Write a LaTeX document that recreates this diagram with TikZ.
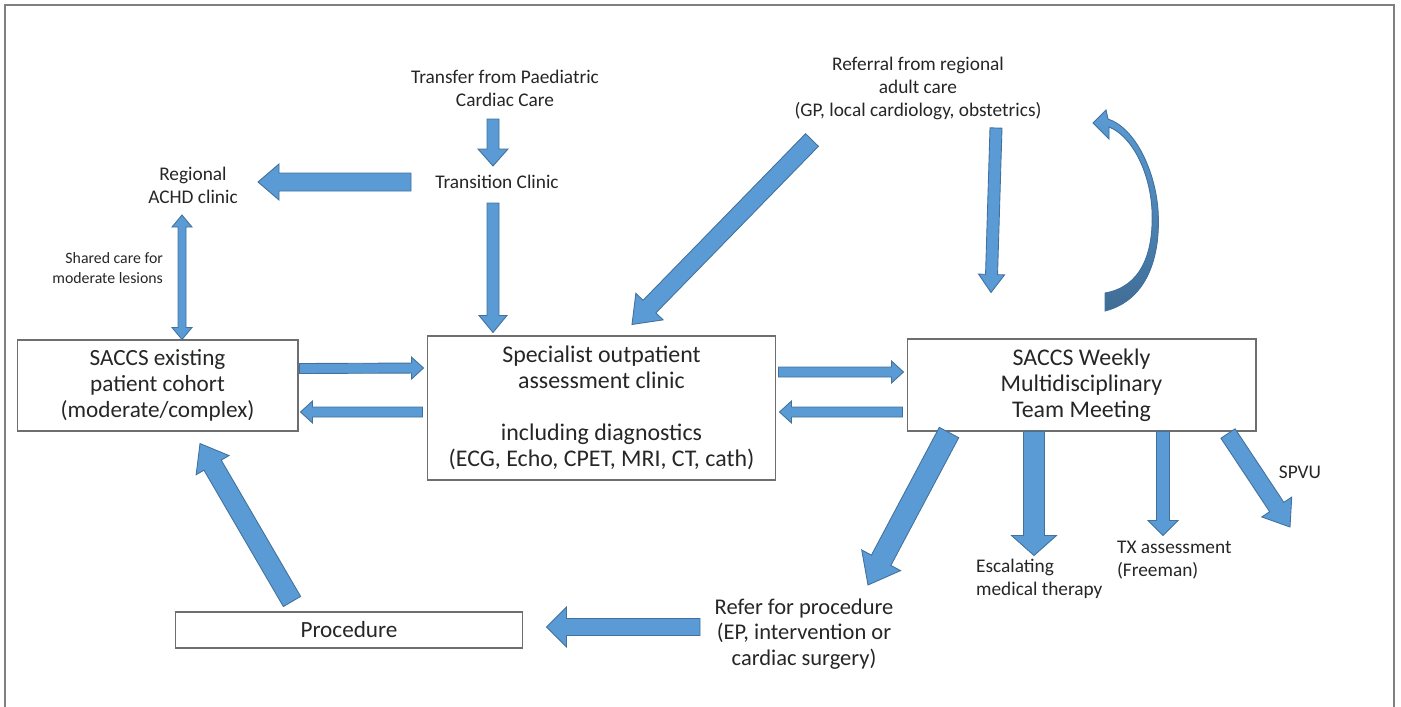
\documentclass[tikz,border=0pt]{standalone}
\usepackage{fontspec}
\setmainfont{Carlito}
\usetikzlibrary{calc}

\definecolor{arrblue}{RGB}{91,155,213}
\definecolor{arredge}{RGB}{65,113,156}
\definecolor{framegray}{RGB}{128,128,128}
\definecolor{boxgray}{RGB}{110,110,110}

% block arrow: start, end, shaft half width, head half width, head length (px)
\newcommand{\fatarrow}[5]{%
  \coordinate (fa-s) at (#1);
  \coordinate (fa-e) at (#2);
  \coordinate (fa-h) at ($(fa-e)!#5*0.02cm!(fa-s)$);
  \draw[fatarr] ($(fa-s)!#3*0.02cm!90:(fa-e)$) -- ($(fa-h)!#3*0.02cm!90:(fa-e)$)
    -- ($(fa-h)!#4*0.02cm!90:(fa-e)$) -- (fa-e) -- ($(fa-h)!#4*0.02cm!-90:(fa-e)$)
    -- ($(fa-h)!#3*0.02cm!-90:(fa-e)$) -- ($(fa-s)!#3*0.02cm!-90:(fa-e)$) -- cycle;
}
% same, with a head at both ends
\newcommand{\fatdarrow}[5]{%
  \coordinate (fa-s) at (#1);
  \coordinate (fa-e) at (#2);
  \coordinate (fa-hs) at ($(fa-s)!#5*0.02cm!(fa-e)$);
  \coordinate (fa-he) at ($(fa-e)!#5*0.02cm!(fa-s)$);
  \draw[fatarr] (fa-s) -- ($(fa-hs)!#4*0.02cm!90:(fa-e)$) -- ($(fa-hs)!#3*0.02cm!90:(fa-e)$)
    -- ($(fa-he)!#3*0.02cm!90:(fa-e)$) -- ($(fa-he)!#4*0.02cm!90:(fa-e)$) -- (fa-e)
    -- ($(fa-he)!#4*0.02cm!-90:(fa-e)$) -- ($(fa-he)!#3*0.02cm!-90:(fa-e)$)
    -- ($(fa-hs)!#3*0.02cm!-90:(fa-e)$) -- ($(fa-hs)!#4*0.02cm!-90:(fa-e)$) -- cycle;
}

\begin{document}
\begin{tikzpicture}[
  x=0.02cm, y=-0.02cm,
  clinicbox/.style={
    draw=boxgray,
    line width=0.6pt,
    align=center,
    text=black!85,
    font=\fontsize{13.2}{14.8}\selectfont
  },
  flowlabel/.style={align=center, inner sep=1pt, text=black!85, font=\fontsize{11}{13.1}\selectfont},
  biglabel/.style={flowlabel, font=\fontsize{12.8}{14.5}\selectfont},
  smalllabel/.style={flowlabel, font=\fontsize{9}{11.4}\selectfont},
  fatarr/.style={fill=arrblue, draw=arredge, line width=0.5pt, line join=miter}
]
\useasboundingbox (0,0) rectangle (1401,707);
\draw[framegray, line width=1.1pt] (5,707) -- (5,5) -- (1394,5) -- (1394,707);

% boxes
\node[clinicbox, minimum width=5.62cm, minimum height=1.82cm] (saccs) at (157.5,385.5)
  {SACCS existing\\patient cohort\\(moderate/complex)};
\node[clinicbox, minimum width=6.98cm, minimum height=2.88cm, font=\fontsize{13.6}{14.8}\selectfont] (spec) at (601.5,408)
  {Specialist outpatient\\assessment clinic\\\mbox{}\\including diagnostics\\(ECG, Echo, CPET, MRI, CT, cath)};
\node[clinicbox, minimum width=6.98cm, minimum height=1.84cm, font=\fontsize{13.6}{14.8}\selectfont] (mdt) at (1081.5,385)
  {SACCS Weekly\\Multidisciplinary\\Team Meeting};
\node[clinicbox, minimum width=6.96cm, minimum height=0.72cm] (proc) at (349,630) {Procedure};

% labels
\node[flowlabel] (paed) at (505,88) {Transfer from Paediatric\\Cardiac Care};
\node[flowlabel] (trans) at (497,182) {Transition Clinic};
\node[flowlabel] (regional) at (193,185) {Regional\\ACHD clinic};
\node[smalllabel, anchor=east, align=right] (shared) at (165,268) {Shared care for\\moderate lesions};
\node[flowlabel] (referral) at (918,88) {Referral from regional\\adult care\\(GP, local cardiology, obstetrics)};
\node[flowlabel, anchor=west, align=left] (escal) at (974,579) {Escalating\\medical therapy};
\node[flowlabel, anchor=west, align=left] (tx) at (1115,560.5) {TX assessment\\(Freeman)};
\node[flowlabel] (spvu) at (1300,472) {SPVU};
\node[biglabel] (refer) at (804,634) {Refer for procedure\\(EP, intervention or\\cardiac surgery)};

% arrows
\fatarrow{$(trans)+(-4,-63)$}{$(trans)+(-4,-16)$}{6}{15}{17}
\fatarrow{$(trans)+(-4,21)$}{$(spec.north)+(-108.5,-3)$}{6}{14}{17}
\fatarrow{$(trans)+(-86,0)$}{$(regional)+(65,-3)$}{9}{18}{21}
\fatdarrow{$(regional)+(-11,30)$}{$(saccs.north)+(24.5,0)$}{4}{10}{12}
\fatarrow{$(referral)+(-106,52)$}{$(spec.north)+(30.5,-11)$}{9}{19}{25}
\fatarrow{$(referral)+(78,40)$}{$(mdt.north)+(-90.5,-46)$}{6}{13}{18}
\fatarrow{$(saccs.east)+(1,-17)$}{$(spec.west)+(-3,-40)$}{5}{11}{12}
\fatarrow{$(spec.west)+(-4,4)$}{$(saccs.east)+(2,26.5)$}{5}{11}{12}
\fatarrow{$(spec.east)+(2,-36)$}{$(mdt.west)+(-3,-13)$}{5}{11}{12}
\fatarrow{$(mdt.west)+(-4,27)$}{$(spec.east)+(3,4)$}{5}{11}{12}
\fatarrow{$(mdt.south)+(-132.5,1)$}{$(refer)+(64,-49)$}{11}{22}{28}
\fatarrow{$(mdt.south)+(-47.5,0)$}{$(mdt.south)+(-47.5,124)$}{10.5}{22.5}{20}
\fatarrow{$(mdt.south)+(81.5,0)$}{$(mdt.south)+(81.5,104)$}{6.5}{15}{15}
\fatarrow{$(mdt.south)+(146.5,2)$}{$(spvu)+(-10,55)$}{8.5}{18}{24}
\fatarrow{$(refer)+(-104,-7)$}{$(proc.east)+(23,-3)$}{8.5}{20}{20}
\fatarrow{$(proc.north)+(-57,-10)$}{$(saccs.south)+(42.5,12)$}{10}{19}{25}

% curved arrow back up from the meeting
\draw[fatarr, top color=arrblue, bottom color=arrblue!70!black]
  (1105,293) -- (1105,311) .. controls (1148,300) and (1161,255) .. (1158,210)
  .. controls (1155,170) and (1135,128) .. (1108,119) -- (1106,110) -- (1093,123)
  -- (1109,139) -- (1109,127) .. controls (1132,136) and (1150,172) .. (1152,210)
  .. controls (1154,255) and (1140,287) .. (1105,293) -- cycle;

\end{tikzpicture}
\end{document}
